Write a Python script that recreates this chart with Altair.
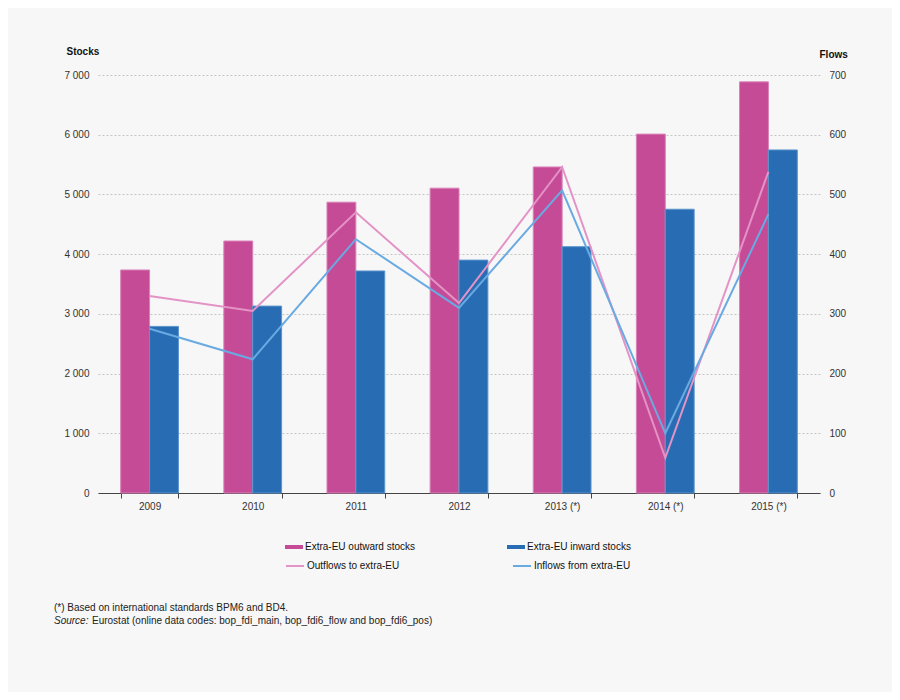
import altair as alt
import pandas as pd

# ---- data ----
years = ["2009", "2010", "2011", "2012", "2013 (*)", "2014 (*)", "2015 (*)"]
outward_stocks = [3735, 4220, 4870, 5105, 5460, 6010, 6885]
inward_stocks = [2790, 3130, 3718, 3900, 4125, 4752, 5745]
outflows = [330, 305, 470, 318, 546, 59, 538]
inflows = [275, 224, 425, 310, 507, 100, 467]

bar_series = ["Extra-EU outward stocks", "Extra-EU inward stocks"]
line_series = ["Outflows to extra-EU", "Inflows from extra-EU"]
bar_colors = ["#c64b96", "#286db4"]
line_colors = ["#e393c6", "#6aaae2"]

stock_ticks = [0, 1000, 2000, 3000, 4000, 5000, 6000, 7000]
flow_ticks = [0, 100, 200, 300, 400, 500, 600, 700]

note_line = "(*) Based on international standards BPM6 and BD4."
source_label = "Source:"
source_text = "Eurostat (online data codes: bop_fdi_main, bop_fdi6_flow and bop_fdi6_pos)"

FONT = "Liberation Sans"

bar_df = pd.DataFrame({
    "year": years * 2,
    "series": [bar_series[0]] * len(years) + [bar_series[1]] * len(years),
    "value": outward_stocks + inward_stocks,
})
line_df = pd.DataFrame({
    "year": years * 2,
    "series": [line_series[0]] * len(years) + [line_series[1]] * len(years),
    "value": outflows + inflows,
})

x_axis = alt.Axis(
    title=None, labelAngle=0, grid=False, domainColor="#444444", domainWidth=1,
    tickColor="#444444", tickBand="extent", tickSize=5, labelPadding=3,
    labelFontSize=10, labelColor="#333333", labelFont=FONT,
)
x_enc = alt.X("year:N", sort=years,
              scale=alt.Scale(paddingInner=0.44, paddingOuter=0.22),
              axis=x_axis)

bars = alt.Chart(bar_df).mark_bar(strokeWidth=1).encode(
    x=x_enc,
    xOffset=alt.XOffset("series:N", sort=bar_series),
    y=alt.Y("value:Q", scale=alt.Scale(domain=[0, 7000], nice=False),
            axis=alt.Axis(
                values=stock_ticks,
                labelExpr="replace(format(datum.value, ','), ',', ' ')",
                title="Stocks", titleAngle=0, titleX=-32, titleY=-21,
                titleAlign="left", titleBaseline="alphabetic",
                titleFontWeight="bold", titleFontSize=10, titleFont=FONT,
                titleColor="#111111",
                domain=False, ticks=False, tickSize=0, labelPadding=9,
                labelFontSize=10, labelColor="#333333", labelFont=FONT,
                grid=True, gridDash=[2, 2], gridColor="#c4c4c4", gridWidth=1,
            )),
    fill=alt.Fill("series:N", scale=alt.Scale(domain=bar_series, range=bar_colors),
                  legend=alt.Legend(
                      title=None, orient="none", legendX=187, legendY=463,
                      direction="horizontal", columns=2, columnPadding=91,
                      symbolType="M-1,-0.22H1V0.22H-1Z", symbolSize=324,
                      symbolStrokeWidth=0, labelOffset=2, padding=0,
                      labelFontSize=10, labelColor="#111111", labelFont=FONT,
                  )),
    stroke=alt.condition(alt.datum.series == bar_series[0],
                         alt.value("#d982b8"), alt.value("#5b94cc")),
)

lines = alt.Chart(line_df).mark_line(strokeWidth=2).encode(
    x=x_enc,
    y=alt.Y("value:Q", scale=alt.Scale(domain=[0, 700], nice=False),
            axis=alt.Axis(
                orient="right", values=flow_ticks,
                title="Flows", titleAngle=0, titleX=-1, titleY=-18,
                titleAlign="left", titleBaseline="alphabetic",
                titleFontWeight="bold", titleFontSize=10, titleFont=FONT,
                titleColor="#111111",
                domain=False, ticks=False, tickSize=0, labelPadding=9,
                labelFontSize=10, labelColor="#333333", labelFont=FONT,
                grid=False,
            )),
    stroke=alt.Stroke("series:N", sort=line_series,
                      scale=alt.Scale(domain=line_series, range=line_colors),
                      legend=alt.Legend(
                          title=None, orient="none", legendX=187, legendY=481,
                          direction="horizontal", columns=2, columnPadding=109,
                          symbolType="stroke", symbolSize=324,
                          symbolStrokeWidth=2, labelOffset=2, padding=0,
                          labelFontSize=10, labelColor="#111111", labelFont=FONT,
                      )),
)

notes_df = pd.DataFrame({"t": [note_line]})
src_df = pd.DataFrame({"t": [source_label]})
src2_df = pd.DataFrame({"t": [source_text]})

note = alt.Chart(notes_df).mark_text(
    align="left", baseline="middle", fontSize=10, font=FONT, color="#222222"
).encode(x=alt.value(-44), y=alt.value(533), text="t:N")
src = alt.Chart(src_df).mark_text(
    align="left", baseline="middle", fontSize=10, font=FONT, color="#222222",
    fontStyle="italic"
).encode(x=alt.value(-44), y=alt.value(546), text="t:N")
src2 = alt.Chart(src2_df).mark_text(
    align="left", baseline="middle", fontSize=10, font=FONT, color="#222222"
).encode(x=alt.value(-6), y=alt.value(546), text="t:N")

chart = alt.layer(bars, lines, note, src, src2).resolve_scale(
    y="independent"
).properties(
    width=722, height=418,
    autosize=alt.AutoSizeParams(type="none"),
    padding={"left": 90, "top": 67, "right": 72, "bottom": 199},
    background="#f7f7f7",
).configure_view(stroke=None)

chart.save("out.html", embed_options={"renderer": "svg", "actions": False})
